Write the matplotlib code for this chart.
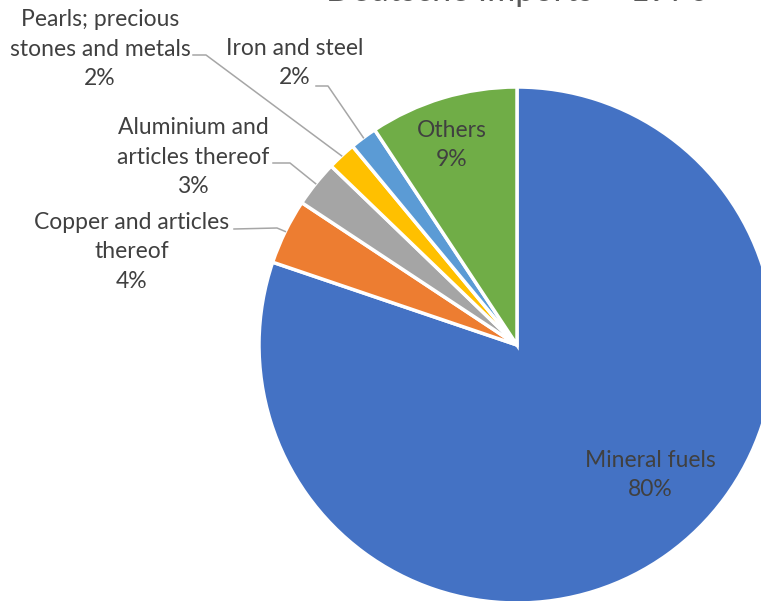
import matplotlib
matplotlib.use('Agg')
import matplotlib.pyplot as plt
import numpy as np

plt.rcParams['font.family'] = ['Lato', 'DejaVu Sans']

# Dữ liệu
categories = ['Mineral fuels', 'Copper and articles\nthereof', 'Aluminium and\narticles thereof',
              'Pearls; precious\nstones and metals', 'Iron and steel', 'Others']
values = [80.2, 4.1, 2.9, 1.8, 1.7, 9.3]
colors = ['#4472C4', '#ED7D31', '#A5A5A5', '#FFC000', '#5B9BD5', '#70AD47']
title = 'Deutsche Imports \u2013 1970'

W, H = 761, 601
fig = plt.figure(figsize=(W / 100, H / 100), dpi=100)

# tâm pie ~ (517, 345) px, bán kính ~258 px
cx, cy, R = 517, 345, 258
ax = fig.add_axes([(cx - R) / W, (H - cy - R) / H, 2 * R / W, 2 * R / H])

wedges, _ = ax.pie(values, colors=colors, startangle=90, counterclock=False, radius=1,
                   wedgeprops=dict(edgecolor='white', linewidth=2.5))
ax.set_xlim(-1, 1)
ax.set_ylim(-1, 1)
ax.set_aspect('equal')
ax.axis('off')
for w in wedges:
    w.set_clip_on(False)

total = sum(values)
pct = [f'{v / total * 100:.0f}%' for v in values]
txt_color = '#404040'
fs = 16.5
ls = 1.5


def px(x, y):
    return (x - cx) / R, (cy - y) / R


def mid(w, r=1.0):
    a = np.deg2rad((w.theta1 + w.theta2) / 2)
    return r * np.cos(a), r * np.sin(a)


# nhãn bên trong
for i, (x, y) in [(0, (650, 475)), (5, (452, 145))]:
    tx, ty = px(x, y)
    ax.text(tx, ty, f'{categories[i]}\n{pct[i]}', ha='center', va='center',
            fontsize=fs, color=txt_color, linespacing=ls)

# nhãn bên ngoài + đường dẫn
outside = {
    1: dict(pos=(132, 252), line=[(234, 229), (277, 228)]),
    2: dict(pos=(193, 157), line=[(273, 163), (290, 163)]),
    3: dict(pos=(100, 49), line=[(193, 55), (206, 55)]),
    4: dict(pos=(295, 63), line=[(316, 86), (328, 86)]),
}
for i, d in outside.items():
    tx, ty = px(*d['pos'])
    ax.text(tx, ty, f'{categories[i]}\n{pct[i]}', ha='center', va='center',
            fontsize=fs, color=txt_color, linespacing=ls)
    pts = [px(*p) for p in d['line']] + [mid(wedges[i], 1.0)]
    xs, ys = zip(*pts)
    ax.plot(xs, ys, color='#A6A6A6', lw=1.1, clip_on=False)

fig.text(326 / W, 1 - 1 / H, title, ha='left', va='baseline', fontsize=24.5, color='#595959')

fig.savefig('out.png', dpi=100)
